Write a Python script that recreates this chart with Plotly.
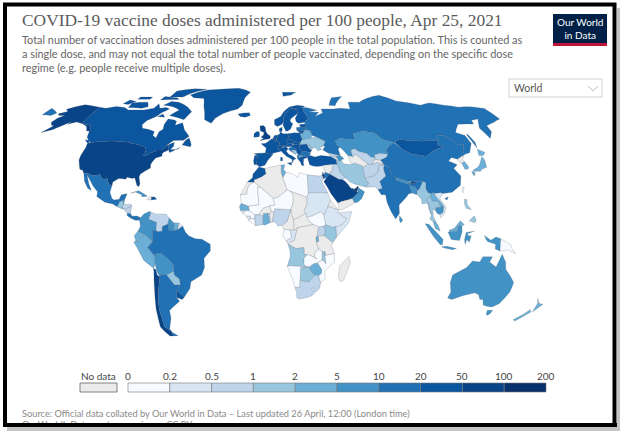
import plotly.graph_objects as go

# doses per 100 people, read from the map colours (None = no data)
countries = ["USA", "CAN", "GRL", "ISL", "MEX", "GTM", "BLZ", "HND", "SLV", "NIC", "CRI", "PAN", "CUB", "HTI", "DOM",
             "COL", "VEN", "GUY", "SUR", "GUF", "ECU", "PER", "BOL", "CHL", "ARG", "PRY", "URY", "BRA",
             "GBR", "IRL", "FRA", "ESP", "PRT", "BEL", "NLD", "DEU", "CHE", "AUT", "ITA", "DNK", "NOR", "SWE", "FIN",
             "POL", "CZE", "SVK", "HUN", "HRV", "BIH", "SRB", "ALB", "MKD", "GRC", "BGR", "ROU", "MDA", "UKR", "BLR",
             "LTU", "LVA", "EST", "TUR", "RUS", "KAZ", "MNG", "CHN", "TWN", "JPN", "PRK", "KOR", "IND", "NPL", "BTN",
             "BGD", "LKA", "PAK", "AFG", "IRN", "IRQ", "SYR", "JOR", "ISR", "SAU", "YEM", "OMN", "ARE", "TKM", "UZB",
             "TJK", "KGZ", "GEO", "AZE", "ARM", "MMR", "THA", "LAO", "VNM", "KHM", "MYS", "IDN", "PNG", "PHL", "AUS",
             "NZL", "MAR", "ESH", "DZA", "TUN", "LBY", "EGY", "MRT", "MLI", "SEN", "GIN", "GNB", "SLE", "LBR", "CIV",
             "BFA", "GHA", "TGO", "BEN", "NGA", "NER", "TCD", "SDN", "SSD", "ERI", "ETH", "SOM", "KEN", "UGA", "RWA",
             "TZA", "CMR", "GAB", "COG", "CAF", "COD", "AGO", "ZMB", "MWI", "MOZ", "ZWE", "BWA", "NAM", "ZAF", "LSO",
             "MDG"]
doses = [68, 33, 32, 35, 12, 1.1, 8, 0.6, 3, 0.9, 12, 15, 8, None, 30,
         6, 0.8, 9, 4, None, 4, 4, 7, 72, 16, 1.2, 42, 18,
         70, 32, 30, 32, 31, 30, 30, 30, 27, 28, 30, 31, 26, 29, 31,
         29, 28, 27, 45, 18, 1.5, 45, 15, 2, 24, 12, 22, 1.5, 1.8, 3,
         28, 15, 29, 27, 15, 6, 45, 15, 0.1, 2, None, 3.5, 10, 7, 65,
         5, 6, 0.8, 0.6, 1, 0.6, None, 10, 120, 60, None, 8, 105, None, 0.5,
         None, 0.6, 0.5, 8, 0.3, 1.2, 1.6, 3, 0.3, 8, 3, 7, 0.1, 1.5, 7,
         4, 27, None, None, 3, 0.1, 0.5, 0.1, 0.1, 3, 0.15, 0.2, 0.3, 0.15, 0.5,
         None, 3.5, 0.5, None, 0.6, 0.1, None, 0.3, 0.1, None, 0.3, 0.3, 1.6, 0.7, 3,
         None, None, 0.15, 0.2, None, None, 1.3, 0.15, 1.2, 0.1, 3, 1.6, 0.15, 0.6, 0.4,
         None]

# legend bins
bin_labels = ["0", "0.2", "0.5", "1", "2", "5", "10", "20", "50", "100", "200"]
bin_edges = [0, 0.2, 0.5, 1, 2, 5, 10, 20, 50, 100, 200]
bin_colors = ["#f7fbff", "#d8e5f3", "#bdd4ea", "#98c6df", "#6baed6", "#4292c6",
              "#2171b5", "#0c559f", "#0a4488", "#08306b"]
no_data_color = "#ebebeb"

# rough country outlines as (lon, lat)
outlines = {
    "USA": [[(-124.7,48.4),(-123,49),(-95.2,49),(-94.6,48.7),(-89.6,48),(-84.9,46.9),(-82.5,45.3),(-82.1,43),(-83.1,42),(-82.7,41.7),(-79,42.8),(-79.1,43.4),(-76.5,44),(-75,45),(-71.5,45),(-70,46.7),(-69.2,47.4),(-68,47.3),(-67.8,45.7),(-67,44.9),(-70,43.7),(-70.7,42.7),(-70,41.7),(-74,40.6),(-75.5,38.5),(-76,37),(-75.5,35.3),(-78,33.9),(-81,32),(-81.4,30.5),(-80,26.8),(-80.4,25.2),(-81.8,26),(-82.8,28),(-84,30),(-85.5,29.7),(-89,30.3),(-89.5,29.2),(-91.5,29.5),(-94,29.6),(-97.2,27.8),(-97.2,25.9),(-99.3,26.4),(-101.4,29.8),(-103,29),(-104.6,29.6),(-106.5,31.8),(-108.2,31.5),(-111,31.3),(-114.8,32.5),(-117.1,32.5),(-118.5,34),(-120.6,34.6),(-122,36.7),(-123.8,39.5),(-124.3,42),(-124,46.3)],
            [(-141,69.6),(-141,60.3),(-139,60),(-137,59),(-134,59.5),(-130,56),(-130,55.5),(-132,55.5),(-135,58),(-140,59.7),(-146,60.7),(-151,59.3),(-150,61),(-154,58.5),(-158,56.2),(-164,54.7),(-160,58.5),(-162,58.7),(-165,60.5),(-164,63),(-161,64.5),(-166,64.6),(-168,65.6),(-163,67),(-166.5,68.4),(-156.5,71.3),(-148,70.4)]],
    "CAN": [[(-141,69.6),(-135,69),(-128,70.2),(-120,69.5),(-115,68),(-108,68),(-102,68),(-95,69),(-94,71.9),(-90,69),(-85,69.5),(-81.5,68.5),(-86,66),(-88,64),(-93,61.5),(-94.5,59),(-92.5,57),(-88,56.5),(-82.5,55.2),(-82,52.9),(-79,51.5),(-79,55),(-77,56.5),(-78,59),(-77.5,62.4),(-72,61.8),(-70,61),(-69.5,58.8),(-65,60.3),(-61,56),(-56,52.5),(-59,50.3),(-66,50.2),(-70,47.2),(-65,49.2),(-64.5,47),(-66,45.2),(-61,45.3),(-60,46.5),(-63.5,44.6),(-66,43.6),(-67,44.9),(-67.8,45.7),(-68,47.3),(-69.2,47.4),(-70,46.7),(-71.5,45),(-75,45),(-76.5,44),(-79.1,43.4),(-79,42.8),(-82.7,41.7),(-83.1,42),(-82.1,43),(-82.5,45.3),(-84.9,46.9),(-89.6,48),(-94.6,48.7),(-95.2,49),(-123,49),(-125,50),(-128,52),(-130,55.5),(-130,56),(-134,59.5),(-137,59),(-139,60),(-141,60.3)],
            [(-62,66.8),(-65,62),(-72,63.5),(-78,64.5),(-73,68),(-80,70),(-89,71),(-85,73.5),(-78,73),(-68,70)],
            [(-117,69.5),(-105,69),(-101,70),(-105,73),(-118,72.5)],
            [(-125,72),(-120,71.5),(-116,73.5),(-123,74.4)],
            [(-90,76.5),(-78,76.5),(-74,79),(-62,82.5),(-75,83),(-90,81)],
            [(-96,74.5),(-80,74.7),(-82,75.8),(-95,76.8)],
            [(-117,75),(-106,75),(-106,76.5),(-117,76.5)],
            [(-59,47.7),(-53,46.7),(-52.8,48),(-55.5,51.5),(-57.5,50.5)],
            [(-128,50.6),(-125,50.2),(-123.5,48.5),(-125,48.8)],
            [(-87,64),(-81,63.5),(-84,65.5)]],
    "GRL": [[(-73,78),(-68,76),(-58,75.5),(-54,70),(-51,66),(-49,62),(-43,59.9),(-41,63),(-36,65.8),(-25,68.5),(-22,71),(-21,76),(-17,80),(-30,83.5),(-45,82.7),(-60,82),(-68,80)]],
    "ISL": [[(-24,65.5),(-22,64),(-18,63.5),(-14,64.5),(-15,66.2),(-20,66)]],
    "MEX": [[(-117.1,32.5),(-114.8,32.5),(-111,31.3),(-108.2,31.5),(-106.5,31.8),(-104.6,29.6),(-103,29),(-101.4,29.8),(-99.3,26.4),(-97.2,25.9),(-97.8,22.3),(-96,19),(-94.5,18.2),(-91.5,18.5),(-90.5,21),(-87,21.5),(-88,18.5),(-89.1,17.9),(-91,17.2),(-90.5,16.2),(-92.2,14.6),(-95,16),(-100,17),(-105.5,20),(-105.5,22.5),(-109,25.7),(-112.5,29.5),(-114.7,31.6),(-112,27),(-109.5,23.2),(-112,24.5),(-115,28)]],
    "GTM": [[(-92.2,14.6),(-91,17.2),(-89.1,17.9),(-88.3,15.8),(-89.2,14.4),(-90.5,13.9)]],
    "BLZ": [[(-89.1,17.9),(-88,18.5),(-88.3,15.8)]],
    "HND": [[(-89.2,14.4),(-88.3,15.8),(-84,15.9),(-83.2,15),(-87.5,13)]],
    "SLV": [[(-90,13.7),(-89.2,14.4),(-87.8,13.2)]],
    "NIC": [[(-87.5,13),(-83.2,15),(-83.7,11),(-85.7,11)]],
    "CRI": [[(-85.7,11),(-83.7,11),(-82.6,9.5),(-83,8.3),(-85.6,9.8)]],
    "PAN": [[(-83,8.3),(-82.6,9.5),(-79.6,9.6),(-77.4,8.7),(-77.9,7.3),(-80.4,7.3)]],
    "CUB": [[(-84.9,21.9),(-80,23.1),(-74.2,20.2),(-77.7,19.9),(-78,21),(-82,22.4)]],
    "HTI": [[(-74.4,18.4),(-71.7,18.2),(-71.7,19.8),(-73,19.9)]],
    "DOM": [[(-71.7,18.2),(-68.4,18.5),(-69.8,19.8),(-71.7,19.8)]],
    "COL": [[(-77.4,8.7),(-75.5,10.7),(-72,12.2),(-71.3,11),(-72.5,8),(-67.5,6.2),(-67.8,2),(-70,1.5),(-69.9,-4.2),(-72,-2.4),(-75.2,0),(-78.8,1.4),(-77.3,4),(-77.9,7.3)]],
    "VEN": [[(-71.3,11),(-72,12),(-68,10.6),(-62,10.7),(-60,8.5),(-60.7,5.2),(-64,4),(-64,1.5),(-67,1.2),(-67.8,2),(-67.5,6.2),(-72.5,8)]],
    "GUY": [[(-60,8.5),(-57.2,6),(-56.5,1.9),(-59.9,1.4),(-60.7,5.2)]],
    "SUR": [[(-57.2,6),(-54,5.9),(-54.5,2.3),(-56.5,1.9)]],
    "GUF": [[(-54,5.9),(-51.7,4.2),(-54.5,2.3)]],
    "ECU": [[(-80.1,-3.4),(-81,-1),(-78.8,1.4),(-75.2,0),(-75.5,-1.5),(-78.3,-3.5),(-78.7,-4.5)]],
    "PER": [[(-81.3,-4.5),(-80.1,-3.4),(-78.7,-4.5),(-78.3,-3.5),(-75.5,-1.5),(-75.2,0),(-72,-2.4),(-69.9,-4.2),(-73,-7.3),(-69.6,-11),(-69,-12.5),(-69,-16.2),(-70.3,-18.3),(-76,-14),(-79,-8)]],
    "BOL": [[(-69,-12.5),(-69.6,-11),(-65.3,-10),(-60.5,-13.7),(-58,-16.3),(-58,-20),(-62.6,-22),(-66.3,-21.8),(-67,-23),(-68.5,-20),(-69,-16.2)]],
    "CHL": [[(-70.3,-18.3),(-69,-19),(-68.5,-22),(-67,-23),(-70,-33),(-71.5,-40),(-72,-50),(-68.5,-52.3),(-68.6,-54.9),(-71,-55),(-75,-50),(-73.5,-40),(-71.5,-30),(-70.3,-20)]],
    "ARG": [[(-66.3,-21.8),(-62.6,-22),(-58.5,-27.2),(-54.6,-27),(-53.7,-26),(-57.6,-30.2),(-58.4,-33.5),(-58.4,-34),(-57,-36),(-62,-39),(-65,-41),(-65.5,-45),(-69,-51),(-68.5,-52.3),(-72,-50),(-71.5,-40),(-70,-33),(-67,-23)],
            [(-68.6,-52.7),(-65,-54.8),(-68.6,-54.9)]],
    "PRY": [[(-62.6,-22),(-58,-20),(-57.8,-22),(-55,-24),(-54.6,-27),(-58.5,-27.2)]],
    "URY": [[(-58.4,-33.5),(-57.6,-30.2),(-53.4,-33.7),(-55,-35),(-58.4,-34)]],
    "BRA": [[(-51.7,4.2),(-50,1),(-48,-1),(-44,-2.5),(-40,-2.8),(-35,-5.5),(-35,-9),(-39,-13),(-39,-18),(-41,-22),(-48,-25.5),(-49,-29),(-53.4,-33.7),(-57.6,-30.2),(-53.7,-26),(-54.6,-27),(-55,-24),(-57.8,-22),(-58,-20),(-58,-16.3),(-60.5,-13.7),(-65.3,-10),(-69.6,-11),(-73,-7.3),(-69.9,-4.2),(-70,1.5),(-67.8,2),(-67,1.2),(-64,1.5),(-64,4),(-60.7,5.2),(-59.9,1.4),(-56.5,1.9),(-54.5,2.3)]],
    "GBR": [[(-5.7,50),(1.4,51.2),(1.7,52.7),(0,53.5),(-1.5,55),(-2,57.6),(-3.5,58.6),(-6,58.4),(-5.5,55.5),(-3,54.8),(-3,53.4),(-5,52),(-3,51.4)]],
    "IRL": [[(-10,52),(-6.3,52.2),(-6,54),(-6.5,55.2),(-8.5,55),(-10,54)]],
    "FRA": [[(-1.8,43.4),(-1.2,46),(-4.7,48.4),(-1.5,48.7),(2.5,51),(4.2,50),(6,49.6),(8.2,49),(7.6,47.6),(6,46.3),(7,45.9),(7.5,44),(3.2,43.2),(3.1,42.4)]],
    "ESP": [[(-9.2,43),(-1.8,43.4),(3.1,42.4),(0,39.5),(-2,36.8),(-5.5,36),(-7.4,37.2),(-7,42)]],
    "PRT": [[(-8.9,42),(-7,42),(-7.4,37.2),(-9,37),(-9.4,39)]],
    "BEL": [[(2.5,51),(4.2,51.4),(6,50.6),(6,49.6),(4.2,50)]],
    "NLD": [[(3.5,51.4),(4.7,53),(7,53.3),(6,50.8)]],
    "DEU": [[(6,50.6),(7,53.3),(8.7,54),(8.5,55),(11,54),(14.2,53.9),(14.8,51),(12.2,50.3),(13.8,48.7),(13,47.5),(9.6,47.5),(7.6,47.6),(8.2,49),(6,49.6)]],
    "CHE": [[(6,46.3),(7.6,47.6),(9.6,47.5),(10.4,46.8),(9,46),(7,45.9)]],
    "AUT": [[(9.6,47.5),(13,47.5),(13.8,48.7),(17,48.7),(16.2,46.9),(12.2,46.7),(10.4,46.8)]],
    "ITA": [[(7.5,44),(7,45.9),(9,46),(12.2,46.7),(13.7,45.6),(12.3,44.3),(14,42.5),(16,41.8),(18.5,40.2),(16.8,39.7),(16,38),(15.7,40),(12.5,41.5),(10.5,42.9),(8.8,44.4)],
            [(12.5,38),(15.6,38.2),(15.1,36.7)],
            [(8.3,39),(9.6,39.2),(9.5,41),(8.2,40.9)]],
    "DNK": [[(8.1,55.5),(8.5,57),(10.6,57.7),(10.3,55.7),(9.8,54.9)]],
    "NOR": [[(5,59),(7,58),(10.5,59.3),(12,61),(12,63.5),(14.5,66),(18,68.5),(20.5,69),(25,69),(29,69.5),(31,70.3),(25,71),(18,69.8),(13,67),(10,64),(5,62)],
            [(14,77),(22,78),(27,80),(14,80)]],
    "SWE": [[(11.2,59),(13,55.4),(14.3,55.5),(16.5,56.5),(18.8,59.7),(17,61),(17.5,62.5),(21.3,64.5),(24,65.8),(23.5,67.9),(20.5,69),(18,68.5),(14.5,66),(12,63.5),(12,61)]],
    "FIN": [[(24,65.8),(21.3,63),(21.5,61),(23,60),(27.8,60.5),(31.5,62.9),(29,66.9),(29,69.5),(25,69),(20.5,69),(23.5,67.9)]],
    "POL": [[(14.2,53.9),(19,54.5),(23,54.3),(23.6,52),(24,50.8),(22.6,49.1),(19,49.5),(14.8,51)]],
    "CZE": [[(12.2,50.3),(14.8,51),(19,49.5),(17,48.7),(13.8,48.7)]],
    "SVK": [[(17,48.7),(19,49.5),(22.6,49.1),(22,48.4),(18,47.8)]],
    "HUN": [[(16.2,46.9),(17,48),(18,47.8),(22,48.4),(21,46.2),(18.5,45.8)]],
    "HRV": [[(13.7,45.5),(16.2,46.9),(18.8,45.9),(19,44.9),(15.8,45),(17.6,43),(18.5,42.5),(15,44.5)]],
    "BIH": [[(15.8,45),(19,44.9),(19.4,43.5),(18.5,42.5),(17.6,43)]],
    "SRB": [[(18.8,45.9),(21,46.2),(22.7,44.3),(22.4,42.3),(20.5,42.3),(19.4,43.5),(19,44.9)]],
    "ALB": [[(19.4,42.5),(20.6,42),(21,40.6),(20,39.7),(19.4,40.5)]],
    "MKD": [[(20.5,42.3),(22.4,42.3),(23,41.3),(21,40.9)]],
    "GRC": [[(20,39.7),(21,40.9),(23,41.3),(26.3,41.7),(26,40.8),(23.5,40.2),(23,38),(23.2,36.5),(21.7,36.8),(21.2,38.3)]],
    "BGR": [[(22.4,42.3),(22.7,44.3),(28.5,43.6),(27.7,42),(26.3,41.7),(23,41.3)]],
    "ROU": [[(21,46.2),(22,48),(26.6,48.2),(28.2,45.5),(29.6,45),(28.5,43.7),(22.7,44.3)]],
    "MDA": [[(26.6,48.2),(29,47.5),(30,46.4),(28.2,45.5)]],
    "UKR": [[(24,50.8),(30,51.4),(34,52.3),(40,49.7),(38,47.2),(35,46),(36.5,45.3),(33.5,44.5),(32.5,46),(30.8,46.2),(29.6,45),(28.2,45.5),(30,46.4),(29,47.5),(26.6,48.2),(22,48),(22.6,49.1)]],
    "BLR": [[(23,54.3),(23.6,52),(24,50.8),(30,51.4),(31.7,53),(30.8,55.6),(27,55.8),(25,54.2)]],
    "LTU": [[(21,56),(26.5,55.8),(25,54.2),(23,54.3)]],
    "LVA": [[(21,56),(21,57.5),(24.3,57.8),(27.5,57.5),(27.8,56),(26.5,55.8)]],
    "EST": [[(23.5,59.2),(28,59.5),(27.5,57.5),(24.3,57.8)]],
    "TUR": [[(26.2,40),(26.3,41.7),(28,42),(31,41.2),(35,42),(41.5,41.5),(44.8,39.7),(44.8,37.2),(42,37.2),(36,36.7),(35.5,36.5),(32,36.1),(29,36.3),(27,37)]],
    "RUS": [[(28,59.5),(27.5,57.5),(27.8,56),(30.8,55.6),(31.7,53),(34,52.3),(40,49.7),(38,47.2),(39,47),(37,45),(40,43.5),(48,41.8),(47.5,45.5),(49,46.5),(47,48),(47,50),(51,51.6),(55,50.8),(61,51),(61,54),(69,55.3),(76.8,54.3),(77.9,53.3),(80,50.8),(87.3,49.1),(92,50.8),(98,50),(102,50.3),(107,49.8),(114,50.2),(119,50),(120,53.3),(125.5,53),(131,47.7),(135,48.4),(131,44),(131,42.6),(135,43.5),(140.3,48.5),(140.5,53),(135.5,54.6),(143,59.3),(155,59.5),(156.8,61.7),(163,62.5),(156,57),(156.5,51.3),(162,55),(163.5,58.5),(172,60.5),(179.9,62.5),(179.9,68.9),(170,70),(160,69.7),(150,71),(140,72.5),(130,71),(113,73.7),(104,77.7),(90,75.7),(80,73),(70,73),(68,68.5),(60,69),(54,68.5),(44,68.5),(44,66),(37,64),(41,66.5),(33,66.7),(40,67.7),(33,69.4),(29,69.5),(29,66.9),(31.5,62.9),(27.8,60.5)],
            [(142,46),(143.5,49),(143,54),(142,53)],
            [(52,71),(57,70.7),(68,76.8),(58,76)],
            [(-179.9,65),(-172,64.5),(-170,66),(-179.9,69)]],
    "KAZ": [[(47,50),(47,48),(49,46.5),(51,44.5),(53,42),(56,41.3),(56,45),(58.6,45.6),(61,44.2),(66,43),(68,41),(71,41),(70.5,42.3),(74,43),(80,42.8),(80,45),(83,47.2),(87.3,49.1),(80,50.8),(77.9,53.3),(76.8,54.3),(69,55.3),(61,54),(61,51),(55,50.8),(51,51.6)]],
    "MNG": [[(87.8,49.2),(92,50.8),(98,50),(102,50.3),(107,49.8),(114,50.2),(119,50),(116,47.8),(119.9,46.7),(112,44.8),(105,41.6),(96,42.7),(91,45.2)]],
    "CHN": [[(73.6,39.5),(78,41),(80,42.8),(80,45),(83,47.2),(87.3,49.1),(91,45.2),(96,42.7),(105,41.6),(112,44.8),(119.9,46.7),(116,47.8),(119,50),(120,53.3),(125.5,53),(131,47.7),(135,48.4),(131,44),(131,42.6),(130.5,42.3),(128,41.4),(124.4,40),(121,40.9),(118,39),(120.8,37.8),(122.5,37),(119.3,35),(122,31),(120,26),(114,22.3),(108,21.6),(106.7,22),(102,21.5),(101,21.3),(99,22),(98,24.2),(98.7,27.5),(97,28),(92,28),(89.5,28),(88.2,27.9),(81,30.2),(78.7,31.3),(78,35.5),(75,37.3)],
            [(108.7,19),(111,19.7),(110,18.2)]],
    "TWN": [[(120.2,23),(121,25),(122,25),(120.9,22)]],
    "JPN": [[(131,34),(135,35.6),(137,37),(140,40),(141.4,41.4),(142,39.5),(140.8,35.7),(137,34.6),(135.7,33.5),(132,33.5)],
            [(140,42),(141.7,45.4),(145.3,43.7),(143,42)],
            [(130,33.4),(131.9,33.2),(131,31.2),(130,31.5)]],
    "PRK": [[(124.4,40),(128,41.4),(130.5,42.3),(127.5,39.7),(128.3,38.6),(126,37.8),(125,38)]],
    "KOR": [[(126,37.8),(128.3,38.6),(129.4,36),(128.5,34.8),(126.3,34.5)]],
    "IND": [[(68.2,23.8),(70,21),(72.6,21),(73,17),(75,12),(77.5,8),(80,11),(80.2,15.5),(85,19.5),(87,21.5),(89,21.9),(88.2,26),(92,25),(92.3,23),(94,24),(97,28),(92,28),(92,26.8),(89,27),(88.2,27.9),(88.2,26.4),(80.1,28.8),(81,30.2),(78.7,31.3),(78,35.5),(75,37),(74,34.5),(74.5,31),(70,28),(71,24.5)]],
    "NPL": [[(80.1,28.8),(88.2,26.4),(88.2,27.9),(81,30.2)]],
    "BTN": [[(89,27),(92,26.8),(92,28),(89.5,28)]],
    "BGD": [[(88.2,26),(89,21.9),(92,21),(92.3,23),(92,25)]],
    "LKA": [[(80,9.7),(81.8,7.5),(80.6,5.9),(79.8,7)]],
    "PAK": [[(61,25),(66.6,25.3),(68.2,23.8),(71,24.5),(70,28),(74.5,31),(74,34.5),(75,37),(71.5,36.5),(70,33),(66.5,31),(61,29.8),(63,27)]],
    "AFG": [[(61,29.8),(66.5,31),(70,33),(71.5,36.5),(75,37.3),(71,38.3),(67.8,37.2),(65,37.4),(61,35.5)]],
    "IRN": [[(44.8,39.7),(48,39.5),(49,37.5),(54,37),(56,38),(61,36.5),(61,29.8),(63,27),(61,25),(57,26),(54,26.7),(51,28),(48.7,30),(46,33),(44.8,37.2)]],
    "IRQ": [[(42,37.2),(44.8,37.2),(46,33),(48.7,30),(47,29),(44.5,29.2),(39,32),(41,34.5)]],
    "SYR": [[(36,36.7),(42,37.2),(41,34.5),(39,32),(36.4,33),(36,34.7)]],
    "JOR": [[(35.5,31.5),(36.4,33),(39,32),(37,30),(35,29.5)]],
    "ISR": [[(34.3,31.3),(35,33.3),(35.5,31.5),(35,29.5)]],
    "SAU": [[(35,28),(37,30),(39,32),(44.5,29.2),(47,29),(48.5,28),(50,26.5),(51.5,24.5),(55.2,22.7),(55.7,22),(52,19),(48.8,18.2),(45,17.4),(43.2,16.5),(42.5,17),(39,21.5),(37,25)]],
    "YEM": [[(43.2,12.8),(45,12.8),(52,16),(53,16.7),(52,19),(48.8,18.2),(45,17.4),(43.2,16.5)]],
    "OMN": [[(52,19),(55.7,22),(56,24.8),(59.8,22.5),(57.7,19),(55,17),(53,16.7)]],
    "ARE": [[(51.5,24.5),(54,24.1),(56.3,25.8),(56,24.8),(55.2,22.7)]],
    "TKM": [[(53,42),(54,37),(56,38),(61,36.5),(61,35.5),(65,37.4),(61,40.5),(58.6,42.7),(56,41.3)]],
    "UZB": [[(56,41.3),(58.6,42.7),(61,40.5),(65,37.4),(67.8,37.2),(68.3,38),(70,40),(71,41),(68,41),(66,43),(61,44.2),(58.6,45.6),(56,45)]],
    "TJK": [[(67.8,37.2),(71,38.3),(75,37.3),(73.6,39.5),(70,40),(68.3,38)]],
    "KGZ": [[(70.5,42.3),(71,41),(70,40),(73.6,39.5),(78,41),(80,42.8),(74,43)]],
    "GEO": [[(40,43.5),(46,41.8),(45,41.2),(43.5,41.1),(41.5,41.5)]],
    "AZE": [[(45,41.2),(46,41.8),(48,41.8),(50,40.3),(48,39.5),(46.5,39)]],
    "ARM": [[(43.5,41.1),(45,41.2),(46.5,39),(44.8,39.7)]],
    "MMR": [[(92.3,21),(94.3,18.5),(94.3,16),(97.7,16.5),(98.5,12),(99.5,10),(98.7,15.3),(97.5,18.3),(100,20.3),(101,21.3),(99,22),(98,24.2),(98.7,27.5),(97,28),(94,24),(92.3,23)]],
    "THA": [[(97.5,18.3),(98.7,15.3),(99.5,10),(98.2,8),(100.2,6.5),(102,6.2),(100.5,9.5),(100.5,13.5),(102.5,12),(102.5,14),(105.5,14.3),(104.5,17.5),(101,17.5),(100,20.3)]],
    "LAO": [[(100,20.3),(101,21.3),(102,22.4),(104,19.5),(106.5,16.5),(107.5,14.7),(105.5,14.3),(104.5,17.5),(101,17.5)]],
    "VNM": [[(102,21.5),(106.7,22),(108,21.6),(105.7,19),(109,14),(107,10.5),(105,8.6),(104.5,10.4),(106.5,11.5),(107.5,14.7),(106.5,16.5),(104,19.5),(102,22.4)]],
    "KHM": [[(102.5,12),(103,11),(104.5,10.4),(106.5,11.5),(107.5,14.7),(105.5,14.3),(102.5,14)]],
    "MYS": [[(100.2,6.5),(102,6.2),(103.4,4),(104.2,1.4),(101.3,2.9)],
            [(109.6,2),(111.3,2.5),(113,3.2),(116.7,7),(119,5),(117.5,4.2),(115.5,4.5),(114.5,1.5),(110,1)]],
    "IDN": [[(109,1),(110,1),(114.5,1.5),(115.5,4.5),(117.5,4.2),(117.5,1),(116,-3.5),(111,-3),(110,-1)],
            [(95.3,5.5),(97.5,5.2),(104,-1),(106,-3),(105.8,-5.8),(104.5,-5.8),(100.3,-1.5)],
            [(105.3,-6.8),(108.5,-6.6),(114.4,-7.8),(112,-8.4),(106.5,-7.4)],
            [(119.5,-5.5),(119,-3),(120,0.8),(125,1.5),(121,0.3),(121,-1),(123,-1),(122,-4.5),(120.5,-3)],
            [(131,-0.8),(135,-3.3),(138,-1.6),(141,-2.6),(141,-9.1),(138,-8),(138,-5.5),(133,-4),(132,-2.8)]],
    "PNG": [[(141,-2.6),(145,-4.5),(147.5,-6),(147.5,-7),(150.5,-10.5),(146,-8.5),(143,-9),(141,-9.1)]],
    "PHL": [[(120.3,16),(120.7,18.5),(122.2,18.4),(122,15.8),(124,13),(121,13.7)],
            [(122,7),(125.4,9.7),(126.4,7.5),(125.5,6),(124,6.5)]],
    "AUS": [[(113.7,-26),(114.2,-22),(122,-18),(125,-14.5),(129.5,-15),(131,-12.2),(136.8,-12.2),(135.5,-15),(140,-17.7),(142.5,-10.8),(145.3,-15),(146.3,-19),(150,-22.5),(153.2,-26),(153,-31),(150,-37.2),(146.5,-39),(143.5,-38.8),(140,-38),(138,-35),(136,-35),(134,-32.5),(131,-31.5),(124,-33),(118,-35),(115,-34.3),(115.7,-31)],
            [(144.7,-40.8),(148.2,-40.8),(148,-42.5),(146.8,-43.6),(145.5,-42.8)]],
    "NZL": [[(166.5,-46),(168.5,-46.6),(171.2,-44.3),(174.2,-41.7),(172.7,-40.5),(170.5,-43)],
            [(172.8,-34.5),(175.5,-37),(178.5,-37.7),(177,-39.5),(175.2,-41.6),(174.8,-39),(174.7,-37)]],
    "MAR": [[(-13,27.7),(-8.7,27.7),(-8.7,28.8),(-4,30.5),(-1.2,32.2),(-2,35),(-5.9,35.8),(-9.5,32),(-9.7,30)]],
    "ESH": [[(-17,21),(-13,21.3),(-13,23),(-12,26),(-8.7,27.7),(-13,27.7)]],
    "DZA": [[(-8.7,27.7),(-4.8,25),(3.2,19),(6,19.5),(12,23.5),(9.5,30),(8.5,33),(8.6,36.9),(-2,35),(-1.2,32.2),(-4,30.5),(-8.7,28.8)]],
    "TUN": [[(8.6,36.9),(11,37),(10,34.5),(11.5,33),(9.5,30),(8.5,33)]],
    "LBY": [[(9.5,30),(12,23.5),(14,22.8),(24,19.5),(25,22),(25,31.6),(20,32.8),(19,30.3),(15,32.3),(11.5,33)]],
    "EGY": [[(25,22),(36.9,22),(33.7,28),(34.9,29.5),(34.3,31.3),(32,31),(25,31.6)]],
    "MRT": [[(-17,21),(-13,21.3),(-13,23),(-12,26),(-8.7,27.7),(-4.8,25),(-6.5,25),(-5.5,15.5),(-12,14.8),(-16.4,16.3)]],
    "MLI": [[(-12,14.8),(-5.5,15.5),(-6.5,25),(-4.8,25),(3.2,19),(4.2,15.4),(1,15),(-3,13.7),(-5.5,10.4),(-8,10.2),(-11.4,12.4)]],
    "SEN": [[(-17.5,14.7),(-16.4,16.3),(-12,14.8),(-11.4,12.4),(-13.7,12.5),(-16.7,12.4)]],
    "GIN": [[(-15,11),(-13.7,12.5),(-11.4,12.4),(-8,10.2),(-8,8),(-10.7,8.3),(-10.7,9.5),(-13.2,9.5)]],
    "GNB": [[(-16.7,12.4),(-13.7,12.5),(-15,11)]],
    "SLE": [[(-13.2,9.5),(-10.7,9.5),(-10.7,8.3),(-11.5,7)]],
    "LBR": [[(-11.5,7),(-10.7,8.3),(-8,8),(-7.5,4.4)]],
    "CIV": [[(-8,8),(-8,10.2),(-5.5,10.4),(-2.8,9.5),(-3,5),(-7.5,4.4)]],
    "BFA": [[(-5.5,10.4),(-3,13.7),(1,15),(2.2,12),(1,11),(0,11),(-2.8,9.5)]],
    "GHA": [[(-3,5),(-2.8,11),(0,11),(1.2,6),(-2,4.7)]],
    "TGO": [[(0,11),(1,11),(1.7,6.2),(1.2,6)]],
    "BEN": [[(1,11),(2.2,12),(3.6,11.7),(2.7,6.4),(1.7,6.2)]],
    "NGA": [[(2.7,6.4),(3.6,11.7),(4.2,13.5),(14,13),(13,10),(11.5,6.5),(8.5,4.5),(6,4.3),(4.5,6.3)]],
    "NER": [[(2.2,12),(1,15),(4.2,15.4),(3.2,19),(6,19.5),(12,23.5),(14,22.8),(15.5,21),(15.5,17),(14,13),(4.2,13.5),(3.6,11.7)]],
    "TCD": [[(14,13),(15.5,17),(15.5,21),(14,22.8),(24,19.5),(24,15.7),(22,12.7),(23,11),(19,9),(15.5,7.5),(14.5,10)]],
    "SDN": [[(24,19.5),(25,22),(36.9,22),(38.5,18),(36.5,14.3),(34,10),(32,11.8),(27,9.6),(23.5,9),(23,11),(22,12.7),(24,15.7)]],
    "SSD": [[(23.5,9),(27,9.6),(32,11.8),(34,10),(35,5),(34,4.2),(31,3.7),(27.5,5),(25,6.8)]],
    "ERI": [[(36.5,14.3),(38.5,18),(43,12.7),(38,14.5)]],
    "ETH": [[(34,10),(36.5,14.3),(38,14.5),(43,12.7),(42.5,11),(48,8),(45,5),(42,4),(39,3.5),(35,5)]],
    "SOM": [[(43,11.3),(51,12),(49,6),(41.5,-1.7),(41,3.9),(42,4),(45,5),(48,8)]],
    "KEN": [[(34,4.2),(35,5),(39,3.5),(41,3.9),(41.5,-1.7),(39.3,-4.7),(34,-1),(34.5,1.5)]],
    "UGA": [[(30,-1),(34,-1),(34.5,1.5),(34,4.2),(31,3.7),(30,1.5)]],
    "RWA": [[(29,-1.5),(30.6,-1.4),(30.8,-4),(29.3,-4.4)]],
    "TZA": [[(29.3,-4.4),(30.8,-4),(30.6,-1.4),(30,-1),(34,-1),(39.3,-4.7),(38.6,-6.5),(40.4,-10.5),(35,-11.5),(34.5,-9.5),(33,-9.5),(30.7,-8.2)]],
    "CMR": [[(8.5,4.5),(11.5,6.5),(13,10),(14,13),(14.5,10),(15.5,7.5),(16,2),(13.3,2.2),(9.8,2.3)]],
    "GAB": [[(9.8,2.3),(13.3,2.2),(14.4,-2),(11,-3.7),(8.8,-0.7)]],
    "COG": [[(11,-3.7),(14.4,-2),(13.3,2.2),(16,2),(18,3.5),(16,-3.3),(12,-5)]],
    "CAF": [[(15.5,7.5),(19,9),(23,11),(23.5,9),(25,6.8),(27.5,5),(19,3.5),(18,3.5),(16,2)]],
    "COD": [[(12.2,-6),(16,-3.3),(18,3.5),(19,3.5),(27.5,5),(31,3.7),(30,1.5),(30,-1),(29,-1.5),(29.3,-4.4),(30.7,-8.2),(28.5,-10),(28.5,-12),(29.8,-13.4),(27,-12),(22,-11),(21.8,-7.3),(17,-7.8),(13,-5.9)]],
    "AGO": [[(12,-5),(13,-5.9),(17,-7.8),(21.8,-7.3),(22,-11),(24,-11),(22,-13),(22,-16),(23.3,-17.5),(13.5,-17),(11.8,-17.3),(13.6,-12),(13.4,-9)]],
    "ZMB": [[(22,-13),(24,-11),(27,-12),(29.8,-13.4),(28.5,-12),(28.5,-10),(30.7,-8.2),(33,-9.5),(33,-14),(30.3,-15.5),(28,-16),(25,-17.7),(23.3,-17.5),(22,-16)]],
    "MWI": [[(33,-9.5),(34.5,-9.5),(35.5,-16),(34,-14.5),(33,-14)]],
    "MOZ": [[(35,-11.5),(40.4,-10.5),(40.6,-15),(35,-20),(35.5,-24),(32.8,-26),(31.9,-24.3),(31.3,-22.4),(33,-21),(33,-19),(30.3,-15.5),(33,-14),(34,-14.5),(35.5,-16),(34.5,-9.5)]],
    "ZWE": [[(25.3,-17.8),(28,-16),(30.3,-15.5),(33,-19),(33,-21),(31.3,-22.4),(29,-22),(27,-20.5)]],
    "BWA": [[(20,-18),(23.3,-17.5),(25.3,-17.8),(27,-20.5),(29,-22),(25.5,-25.7),(23,-25.3),(20,-24.8)]],
    "NAM": [[(11.8,-17.3),(13.5,-17),(23.3,-17.5),(25,-17.7),(20,-18),(20,-28.4),(17,-28.7),(14.5,-22.5)]],
    "ZAF": [[(17,-28.7),(20,-28.4),(20,-24.8),(23,-25.3),(25.5,-25.7),(29,-22),(31.3,-22.4),(31.9,-24.3),(32.8,-26),(32.5,-29),(28,-33),(25,-34),(20,-34.8),(18.4,-34),(18.2,-31.5)]],
    "LSO": [[(27.2,-29.5),(28.8,-28.7),(29.4,-29.8),(28,-30.6)]],
    "MDG": [[(43.5,-23),(44,-17),(49.3,-12),(50.4,-15.5),(47,-24.8),(45,-25.5)]],
}

title = "COVID-19 vaccine doses administered per 100 people, Apr 25, 2021"
subtitle = ("Total number of vaccination doses administered per 100 people in the total population. This is counted as<br>"
            "a single dose, and may not equal the total number of people vaccinated, depending on the specific dose<br>"
            "regime (e.g. people receive multiple doses).")
source = "Source: Official data collated by Our World in Data – Last updated 26 April, 12:00 (London time)"
source2 = "OurWorldInData.org/coronavirus • CC BY"

W, H = 624, 436


def color_for(value):
    if value is None:
        return no_data_color
    for i, col in enumerate(bin_colors):
        if value < bin_edges[i + 1]:
            return col
    return bin_colors[-1]


def clockwise(ring):
    # d3 treats anticlockwise rings as "everything but this polygon"
    area = sum(a[0] * b[1] - b[0] * a[1] for a, b in zip(ring, ring[1:] + ring[:1]))
    return ring[::-1] if area > 0 else ring


fig = go.Figure()
for code, value in zip(countries, doses):
    for ring in outlines[code]:
        ring = clockwise(ring)
        closed = ring + ring[:1]
        fig.add_trace(go.Scattergeo(lon=[p[0] for p in closed], lat=[p[1] for p in closed],
                                    mode="lines", fill="toself", fillcolor=color_for(value),
                                    line=dict(color="rgba(70,80,95,0.4)", width=0.5),
                                    hoverinfo="skip", showlegend=False))


def px(x):
    return x / W


def py(y):
    return 1 - y / H


def text(x, y, s, size, color, family="Lato", anchor="left", valign="middle"):
    fig.add_annotation(x=px(x), y=py(y), xref="paper", yref="paper", text=s, showarrow=False, align=anchor,
                       xanchor=anchor, yanchor=valign, xshift=-2 if anchor == "left" else 0,
                       font=dict(size=size, color=color, family=family))


def rect(x0, y0, x1, y1, fill, line="rgba(0,0,0,0)", width=0):
    fig.add_shape(type="rect", xref="paper", yref="paper", x0=px(x0), x1=px(x1), y0=py(y0), y1=py(y1),
                  fillcolor=fill, line=dict(color=line, width=width))


def strip(x0, y0, x1, y1, fill):
    # annotations sit above shapes, so the frame's lower edge has to be one to hide the clipped line
    fig.add_annotation(x=px(x0), y=py(y0), xref="paper", yref="paper", text=" ", showarrow=False,
                       xanchor="left", yanchor="top", width=x1 - x0, height=y1 - y0, borderpad=0, borderwidth=0,
                       bgcolor=fill, font=dict(size=1))


text(22, 20, title, 17.4, "#5b5b5b", family="Liberation Serif")
text(22, 53, subtitle, 10.9, "#666666")

# logo
rect(553, 14, 607, 46, "#002147")
rect(553, 43, 607, 46, "#c0143c")
text(580, 28, "Our World<br>in Data", 10, "#ffffff", anchor="center")

# dropdown
rect(509, 79, 602, 97, "#ffffff", "#d0d0d0", 1)
text(514, 88, "World", 10.5, "#555555")
fig.add_shape(type="path", xref="paper", yref="paper", line=dict(color="#bbbbbb", width=1),
              path=f"M {px(588)} {py(86)} L {px(593)} {py(91)} L {px(598)} {py(86)}")

# legend
legend_x0, legend_step = 128, 41.8
rect(80, 383, 117, 392, no_data_color, "#666666", 0.8)
text(98, 376, "No data", 10, "#444444", anchor="center")
for i, label in enumerate(bin_labels):
    x = legend_x0 + i * legend_step
    text(x, 376, label, 10, "#444444", anchor="center")
    if i < len(bin_colors):
        rect(x, 383, x + legend_step, 392, bin_colors[i], "#777777", 0.6)

text(22, 413, source, 9.25, "#8a8a8a")
text(22, 424, source2, 9.25, "#8a8a8a")

# screenshot frame; its lower edge covers the clipped last line
rect(617, 8, 620, 431, "#c4c4c4")
rect(5, 4.5, 614.5, 425, "rgba(0,0,0,0)", "#000000", 4)
strip(0, 427, 624, 436, "#ffffff")
strip(7, 427, 620, 431, "#c4c4c4")
strip(3, 423, 617, 427, "#000000")

fig.update_layout(
    width=W, height=H, margin=dict(l=0, r=0, t=0, b=0), paper_bgcolor="white",
    geo=dict(visible=False, projection_type="robinson", projection_rotation_lon=0, bgcolor="rgba(0,0,0,0)",
             center=dict(lon=8.83, lat=9.6), projection_scale=1.05,
             lonaxis_range=[-162.4, 180], lataxis_range=[-60, 85],
             domain=dict(x=[0, 565 / W], y=[1 - 345 / H, 1 - 87 / H])),
)
fig.write_html("out.html", config={"displayModeBar": False},
               post_script="document.body.style.margin = '0';")
